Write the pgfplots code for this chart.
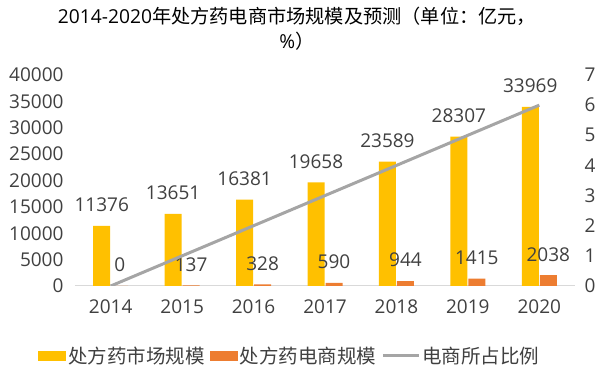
\documentclass[border=0pt]{standalone}
\usepackage{pgfplots}
\usepackage{pgfplotstable}
\pgfplotsset{compat=1.18}
\usepackage{fontspec}
\setmainfont{Open Sans}
\newfontfamily\cjk{Noto Sans CJK SC}
\definecolor{cYel}{HTML}{FFC000}
\definecolor{cOra}{HTML}{ED7D31}
\definecolor{cGry}{HTML}{A5A5A5}
\definecolor{cTxt}{HTML}{404040}
\definecolor{cAx}{HTML}{D9D9D9}

\pgfplotstableread{
x market ecom
0 11376 0
1 13651 137
2 16381 328
3 19658 590
4 23589 944
5 28307 1415
6 33969 2038
}\market
\pgfplotstableread{
x share
0 0
1 1
2 2
3 3
4 4
5 5
6 6
}\share

\begin{document}
\begin{tikzpicture}[font=\fontsize{19}{22}\selectfont, text=cTxt]
\path[use as bounding box] (-75pt,-85pt) rectangle (527pt,286pt);
\begin{axis}[
  scale only axis, width=500pt, height=211pt,
  xmin=-0.5, xmax=6.5, ymin=0, ymax=40000,
  ybar=1pt, bar width=17pt,
  axis x line*=bottom, axis y line*=left,
  x axis line style={cAx, line width=1pt},
  y axis line style={draw=none},
  major tick length=0,
  xtick=data, xticklabels={2014,2015,2016,2017,2018,2019,2020},
  ytick={0,5000,...,40000},
  scaled y ticks=false,
  /pgf/number format/1000 sep={},
  /pgf/number format/assume math mode=true,
  tick label style={text=cTxt},
  yticklabel style={xshift=-8pt},
  xticklabel style={yshift=-10pt},
  nodes near coords,
  every node near coord/.append style={text=cTxt, anchor=center, yshift=21pt, font=\fontsize{19}{22}\selectfont},
  legend columns=3,
  legend style={draw=none, fill=none, at={(0.43,-0.33)}, anchor=center,
    font=\cjk\fontsize{19.5}{22}\selectfont, text=cTxt,
    /tikz/every even column/.append style={column sep=3pt}},
]
\addplot[fill=cYel, draw=none, legend image code/.code={\fill[cYel] (0pt,-5pt) rectangle (28pt,5pt);}] table[x=x,y=market]{\market};
\addlegendentry{处方药市场规模}
\addplot[fill=cOra, draw=none, legend image code/.code={\fill[cOra] (0pt,-5pt) rectangle (28pt,5pt);}] table[x=x,y=ecom]{\market};
\addlegendentry{处方药电商规模}
\addlegendimage{legend image code/.code={\draw[cGry, line width=3pt] (0pt,0pt) -- (36pt,0pt);}}
\addlegendentry{电商所占比例}
\end{axis}
\begin{axis}[
  scale only axis, width=500pt, height=211pt,
  xmin=-0.5, xmax=6.5, ymin=0, ymax=7,
  axis y line*=right, axis x line=none,
  y axis line style={draw=none},
  major tick length=0,
  ytick={0,1,...,7},
  /pgf/number format/assume math mode=true,
  tick label style={text=cTxt},
  yticklabel style={xshift=6pt},
]
\addplot[cGry, line width=3pt, no markers] table[x=x,y=share]{\share};
\end{axis}
\node[align=center, font=\fontsize{19.2}{25}\selectfont, text=black] at (222pt,257pt)
  {2014-2020{\cjk 年处方药电商市场规模及预测（单位：亿元，}\\\%{\cjk ）}};
\end{tikzpicture}
\end{document}
